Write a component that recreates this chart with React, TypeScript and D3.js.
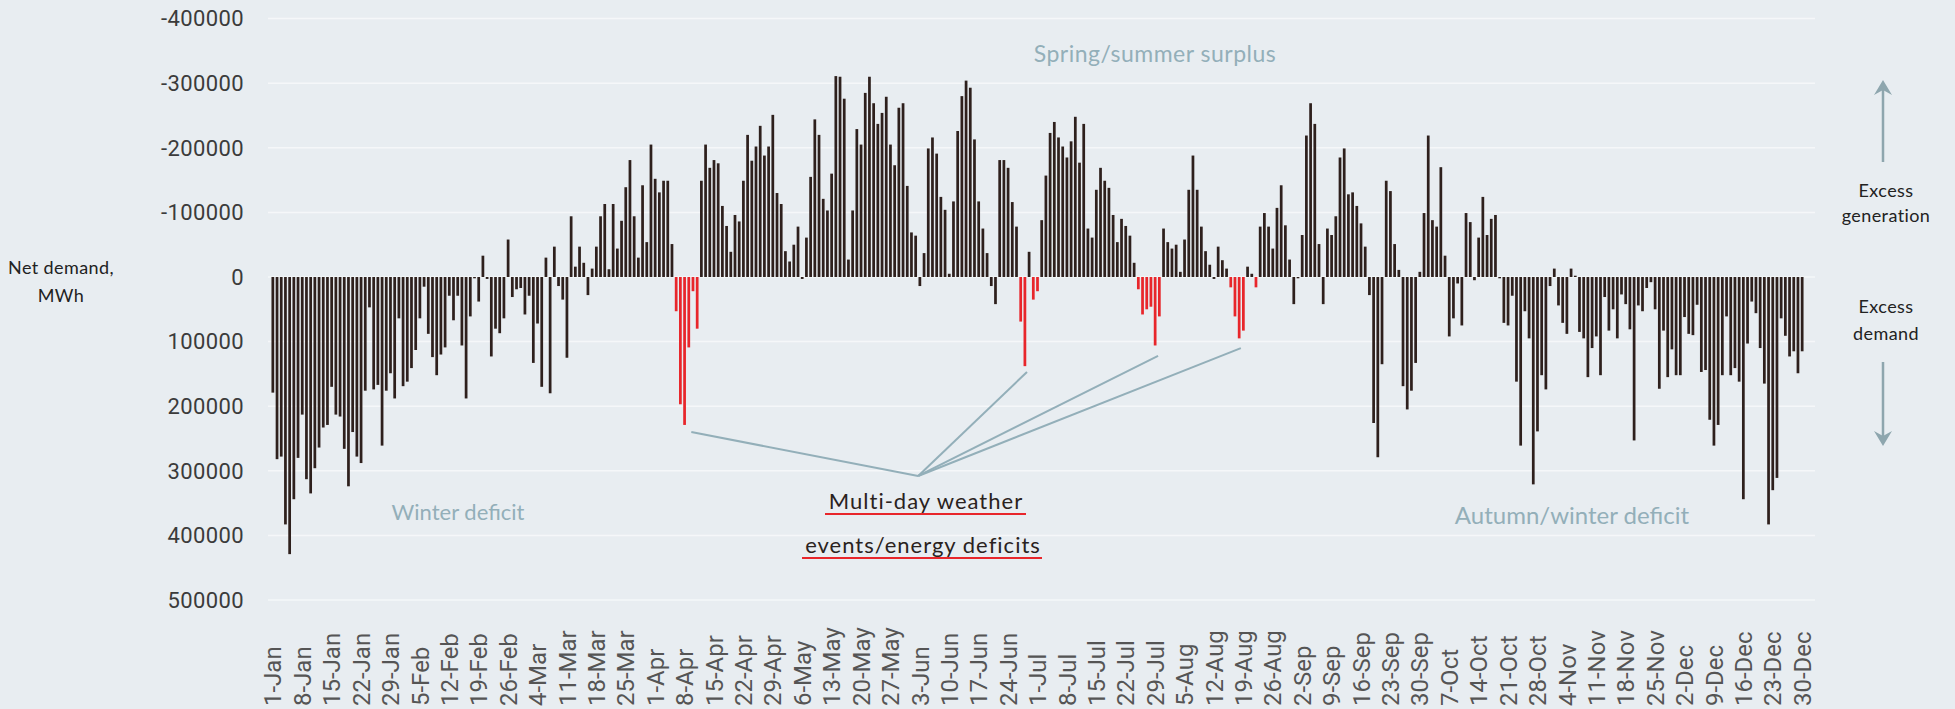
import React, { useEffect } from "react";
import * as d3 from "d3";

// daily net demand, thousand MWh (positive = deficit, negative = surplus)
const netDemandK = [
  179, 282, 278, 383, 429, 344, 280, 213, 313, 335, 296, 264, 233, 229, 170, 213, 216, 266, 324, 240, 278, 288, 176, 47, 174, 167, 261, 176, 149,
  188, 64, 169, 162, 141, 113, 64, 15, 88, 124, 152, 120, 109, 29, 67, 29, 106, 188, 61, 2, 38, -33, 3, 123, 80, 87, 64, -58, 31, 19,
  17, 58, 29, 133, 72, 170, -30, 180, -47, 14, 35, 125, -94, -16, -47, -22, 28, -13, -47, -94, -113, -12, -113, -44, -87, -139, -181, -94, -30, -142, -54, -205,
  -152, -131, -149, -149, -51, 53, 197, 229, 109, 22, 80, -149, -205, -169, -181, -176, -110, -79, -39, -96, -86, -149, -220, -180, -202, -234, -188, -202, -251, -130, -113,
  -40, -24, -50, -78, 3, -61, -155, -244, -220, -121, -103, -160, -311, -310, -276, -27, -103, -229, -205, -285, -310, -269, -237, -254, -279, -205, -173, -262, -269, -141,
  -69, -64, 14, -37, -199, -216, -191, -124, -104, -5, -117, -226, -280, -304, -293, -213, -117, -75, -37, 14, 42, -181, -181, -169, -116, -78, 69, 138, -39, 35, 22, -88,
  -157, -223, -240, -216, -202, -185, -210, -248, -177, -237, -75, -61, -135, -169, -149, -138, -96, -54, -90, -79, -64, -22, 19, 58, 50, 46, 106, 61, -75, -54,
  -44, -50, -8, -58, -135, -188, -135, -78, -40, -19, 3, -47, -26, -13, 16, 61, 95, 83, -16, -5, 16, -78, -99, -78, -44, -107, -142, -80, -27, 42, 2,
  -65, -219, -269, -237, -51, 42, -75, -65, -94, -185, -199, -128, -131, -110, -83, -47, 28, 226, 279, 135, -149, -133, -51, -11, 169, 205, 176, 133, -8, -99, -219,
  -88, -78, -170, -33, 92, 64, 10, 75, -99, -85, 5, -61, -124, -65, -90, -96, 2, 71, 75, 29, 162, 261, 53, 95, 321, 239, 152, 174, 14, -13, 44,
  71, 88, -13, -2, 85, 95, 155, 110, 92, 152, 31, 83, 50, 95, 27, 42, 81, 253, 44, 53, 17, 8, 50, 173, 83, 155, 112, 152, 152, 62, 88,
  90, 43, 147, 144, 221, 261, 229, 152, 61, 152, 141, 162, 344, 103, 38, 56, 110, 165, 383, 330, 311, 64, 91, 123, 115, 149, 115,
];
const netDemand = netDemandK.map((v) => v * 1000);

// days drawn in red (multi-day weather events)
const eventDays = [96, 97, 98, 99, 100, 101, 178, 179, 181, 182, 206, 207, 208, 209, 210, 211, 228, 229, 230, 231, 234];

// one label every 7 days from 1-Jan
const tickLabels = [
  "1-Jan", "8-Jan", "15-Jan", "22-Jan", "29-Jan",
  "5-Feb", "12-Feb", "19-Feb", "26-Feb",
  "4-Mar", "11-Mar", "18-Mar", "25-Mar",
  "1-Apr", "8-Apr", "15-Apr", "22-Apr", "29-Apr",
  "6-May", "13-May", "20-May", "27-May",
  "3-Jun", "10-Jun", "17-Jun", "24-Jun",
  "1-Jul", "8-Jul", "15-Jul", "22-Jul", "29-Jul",
  "5-Aug", "12-Aug", "19-Aug", "26-Aug",
  "2-Sep", "9-Sep", "16-Sep", "23-Sep", "30-Sep",
  "7-Oct", "14-Oct", "21-Oct", "28-Oct",
  "4-Nov", "11-Nov", "18-Nov", "25-Nov",
  "2-Dec", "9-Dec", "16-Dec", "23-Dec", "30-Dec",
];

const yTicks = d3.range(-400000, 500001, 100000);

// leader line ends (day, value) and their meeting point
const calloutTargets = [
  { day: 99.6, value: 240000 },
  { day: 179.5, value: 147000 },
  { day: 210.7, value: 122000 },
  { day: 230.4, value: 110000 },
];
const calloutHub = { day: 153.6, value: 308000 };

const W = 1955;
const H = 709;
const BG = "#e8edf1";
const BAR = "#2e201d";
const RED = "#e8262b";
const NOTE = "#93afb9";
const ARROW = "#8ea6ae";

export default function App() {
  useEffect(() => {
    document.body.style.margin = "0";
  }, []);

  const days = d3.range(netDemand.length);
  const x = d3.scaleBand<number>().domain(days).range([270, 1805]).padding(0.35);
  const y = d3.scaleLinear().domain([-400000, 500000]).range([18.6, 600]);
  const xc = (d: number) => x(0)! + x.bandwidth() / 2 + d * x.step();
  const red = new Set(eventDays);

  const hub = [xc(calloutHub.day), y(calloutHub.value)];

  const arrowHead = (cx: number, tip: number, dir: number) =>
    `M${cx},${tip} L${cx - 9},${tip + 15 * dir} L${cx},${tip + 10 * dir} L${cx + 9},${tip + 15 * dir} Z`;

  return (
    <div style={{ position: "absolute", left: 0, top: 0 }}>
      <svg width={W} height={H} style={{ display: "block" }}>
        <rect width={W} height={H} fill={BG} />
        {yTicks.map((t) => (
          <g key={t}>
            <line x1={268} x2={1815} y1={y(t)} y2={y(t)} stroke="#f5f7f9" strokeWidth={1.5} />
            <text
              x={244}
              y={y(t)}
              dy="0.35em"
              textAnchor="end"
              fontFamily="Roboto"
              fontSize={22}
              letterSpacing={0.4}
              fill="#3b3b3b"
            >
              {t}
            </text>
          </g>
        ))}
        {netDemand.map((v, i) => (
          <rect
            key={i}
            x={x(i)}
            width={x.bandwidth()}
            y={Math.min(y(0), y(v))}
            height={Math.abs(y(v) - y(0))}
            fill={red.has(i) ? RED : BAR}
          />
        ))}
        {tickLabels.map((lab, i) => (
          <text
            key={lab}
            transform={`translate(${xc(i * 7)},706) rotate(-90)`}
            dy="0.36em"
            textAnchor="start"
            fontFamily="Roboto"
            fontSize={24}
            fill="#555"
          >
            {lab}
          </text>
        ))}
        <g fontFamily="Lato" fill="#222" fontSize={18} textAnchor="middle">
          <text x={61} y={274} letterSpacing={0.4}>Net demand,</text>
          <text x={61} y={302} letterSpacing={0.4}>MWh</text>
          <text x={1886} y={197} letterSpacing={0.4}>Excess</text>
          <text x={1886} y={222} letterSpacing={0.4}>generation</text>
          <text x={1886} y={313} letterSpacing={0.4}>Excess</text>
          <text x={1886} y={340} letterSpacing={0.4}>demand</text>
        </g>
        <line x1={1883} x2={1883} y1={88} y2={162} stroke={ARROW} strokeWidth={2.5} />
        <path d={arrowHead(1883, 80, 1)} fill={ARROW} />
        <line x1={1883} x2={1883} y1={362} y2={438} stroke={ARROW} strokeWidth={2.5} />
        <path d={arrowHead(1883, 446, -1)} fill={ARROW} />
        <g fontFamily="Lato" fill={NOTE} textAnchor="middle">
          <text x={1155} y={62} fontSize={23} letterSpacing={0.5}>Spring/summer surplus</text>
          <text x={458} y={520} fontSize={22}>Winter deficit</text>
          <text x={1572} y={524} fontSize={24}>Autumn/winter deficit</text>
        </g>
        {calloutTargets.map((c, i) => (
          <line
            key={i}
            x1={hub[0]}
            y1={hub[1]}
            x2={xc(c.day)}
            y2={y(c.value)}
            stroke={NOTE}
            strokeWidth={2}
          />
        ))}
        <g fontFamily="Lato" fill="#2a2220" fontSize={22} letterSpacing={1} textAnchor="middle">
          <text x={926} y={509}>Multi-day weather</text>
          <text x={923} y={553}>events/energy deficits</text>
        </g>
        <line x1={825} x2={1026} y1={514} y2={514} stroke={RED} strokeWidth={2} />
        <line x1={802} x2={1042} y1={558} y2={558} stroke={RED} strokeWidth={2} />
      </svg>
    </div>
  );
}
